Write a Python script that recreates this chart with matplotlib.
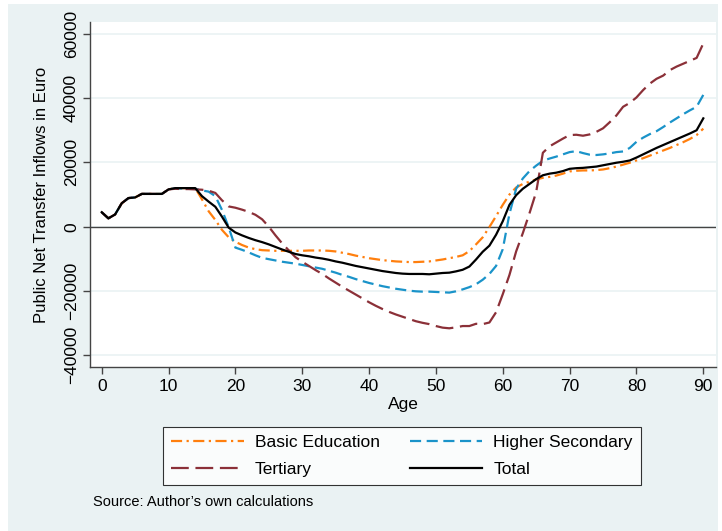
import matplotlib
matplotlib.use("Agg")
import matplotlib.pyplot as plt

plt.rcParams['font.family'] = ['Liberation Sans', 'DejaVu Sans']

ages = list(range(0, 91))

basic_education = [
    4500, 2600, 3800, 7300, 8900, 9100, 10200, 10200, 10200, 10200,
    11600, 12000, 12000, 12000, 12000, 8500, 4800, 2100, -1000, -3300,
    -4700, -5700, -6500, -7000, -7300, -7400, -7500, -7500, -7500, -7500,
    -7500, -7400, -7400, -7400, -7500, -7700, -8100, -8500, -9000, -9400,
    -9800, -10100, -10400, -10600, -10800, -10900, -11000, -11000, -10900, -10800,
    -10500, -10200, -9800, -9400, -8900, -7600, -5500, -3300, -100, 3300,
    6800, 10000, 12200, 13300, 14000, 14700, 15200, 15500, 15900, 16500,
    17200, 17400, 17500, 17500, 17600, 17800, 18200, 18700, 19300, 19900,
    20600, 21300, 22100, 22900, 23700, 24500, 25400, 26300, 27300, 28500,
    30500,
]

higher_secondary = [
    4500, 2600, 3800, 7300, 8900, 9100, 10200, 10200, 10200, 10200,
    11600, 11900, 11900, 11800, 11800, 11300, 10900, 9500, 5200, -200,
    -6500, -7200, -8000, -8900, -9700, -10100, -10500, -10900, -11200, -11500,
    -11900, -12300, -12700, -13100, -13700, -14300, -15000, -15600, -16300, -16900,
    -17500, -18000, -18500, -18900, -19300, -19600, -19900, -20100, -20200, -20200,
    -20300, -20400, -20500, -20100, -19500, -18800, -17900, -16500, -14700, -12200,
    -7000, 4000, 11800, 15000, 17300, 19000, 20500, 21200, 21800, 22500,
    23200, 23500, 22900, 22400, 22300, 22500, 22800, 23200, 23400, 24500,
    26400, 27700, 28800, 29700, 31000, 32400, 33700, 35000, 36200, 37300,
    41000,
]

tertiary = [
    4500, 2600, 3800, 7300, 8900, 9100, 10200, 10200, 10200, 10200,
    11600, 11800, 11700, 11700, 11600, 11500, 11200, 10500, 8200, 6300,
    5900, 5300, 4600, 3700, 2300, 0, -2700, -5200, -7400, -9500,
    -10900, -12200, -13500, -14700, -16100, -17400, -18700, -19900, -21100, -22300,
    -23500, -24600, -25600, -26500, -27300, -28000, -28700, -29400, -29900, -30300,
    -30900, -31400, -31600, -31300, -30900, -30900, -30200, -30300, -29800, -26600,
    -21000, -15000, -7700, -2000, 4200, 10800, 23000, 25000, 26200, 27400,
    28500, 28600, 28300, 28700, 29500, 30600, 32500, 34600, 37300, 38500,
    40200, 42500, 44500, 46000, 47000, 48700, 49800, 50700, 51600, 52500,
    57000,
]

total = [
    4500, 2600, 3800, 7300, 8900, 9100, 10200, 10200, 10200, 10200,
    11600, 12000, 12000, 12000, 12000, 9500, 7800, 6200, 3100, -300,
    -1800, -2700, -3500, -4200, -4800, -5500, -6300, -7100, -7800, -8500,
    -8900, -9200, -9600, -9900, -10300, -10800, -11200, -11700, -12200, -12600,
    -13000, -13400, -13800, -14100, -14400, -14600, -14700, -14700, -14700, -14800,
    -14600, -14400, -14300, -13900, -13400, -12400, -10200, -7800, -5900, -2500,
    1700, 6800, 9800, 11800, 13300, 14800, 16000, 16500, 16800, 17300,
    18000, 18200, 18300, 18500, 18700, 19100, 19500, 19900, 20200, 20600,
    21500, 22500, 23500, 24500, 25400, 26300, 27200, 28100, 29000, 30000,
    33700,
]

series_names = ["Basic Education", "Higher Secondary", "Tertiary", "Total"]
x_ticks = [0, 10, 20, 30, 40, 50, 60, 70, 80, 90]
y_ticks = [-40000, -20000, 0, 20000, 40000, 60000]

BG = "#eaf2f3"
W, H = 722, 531
fig = plt.figure(figsize=(W / 100, H / 100), dpi=100, facecolor="white")

# outer shaded panel, drawn as a bare axes underneath everything
bg_ax = fig.add_axes([8 / W, 0, (718 - 8) / W, (H - 4) / H], zorder=-10)
bg_ax.set_facecolor(BG)
bg_ax.set_xticks([])
bg_ax.set_yticks([])
for s in bg_ax.spines.values():
    s.set_visible(False)

ax = fig.add_axes([90 / W, 1 - 367 / H, (716 - 90) / W, (367 - 22) / H], zorder=1)
ax.set_facecolor("white")
ax.set_xlim(-1.75, 91.9)
ax.set_ylim(-43640, 63670)

for yv in y_ticks:
    ax.axhline(yv, color=BG, lw=1.2, zorder=1)
ax.axhline(0, color="#444444", lw=1.0, zorder=2)

styles = [
    dict(color="#ff7f0e", ls=(0, (5, 2, 1, 2))),
    dict(color="#1a93c9", ls=(0, (5, 2.5))),
    dict(color="#8b3038", ls=(0, (8, 3))),
    dict(color="black", ls="-"),
]
data = [basic_education, higher_secondary, tertiary, total]
handles = []
for name, vals, st in zip(series_names, data, styles):
    (ln,) = ax.plot(ages, vals, lw=1.6, label=name, zorder=3, **st)
    handles.append(ln)

for side in ["top", "right"]:
    ax.spines[side].set_visible(False)
for side in ["left", "bottom"]:
    ax.spines[side].set_color("#444444")
    ax.spines[side].set_linewidth(1.0)

ax.set_xticks(x_ticks)
ax.set_yticks(y_ticks)
ax.set_yticklabels([f"{v}".replace("-", "\u2212") for v in y_ticks],
                   rotation=90, va="center")
ax.tick_params(axis="both", direction="out", length=5, width=1.0,
               color="#444444", labelsize=12.5, labelcolor="black")
ax.tick_params(axis="y", pad=3)
ax.set_xlabel("Age", fontsize=12.5, labelpad=2)
ax.set_ylabel("Public Net Transfer Inflows in Euro", fontsize=12, labelpad=11)

# row-wise legend: matplotlib fills columns first
order = [0, 2, 1, 3]
leg = fig.legend(handles=[handles[i] for i in order],
                 labels=[series_names[i] for i in order], ncol=2,
                 loc="center", bbox_to_anchor=(402 / W, 1 - 456 / H),
                 frameon=True, fancybox=False, fontsize=12.5,
                 handlelength=4.2, handletextpad=0.63, columnspacing=1.7,
                 borderpad=0.45, labelspacing=0.7)
leg.get_frame().set_edgecolor("black")
leg.get_frame().set_linewidth(0.8)
leg.get_frame().set_facecolor("white")

fig.text(93 / W, 1 - 502 / H, "Source: Author\u2019s own calculations",
         fontsize=10.5, va="center", ha="left")

fig.savefig("out.png", dpi=100, facecolor="white")
